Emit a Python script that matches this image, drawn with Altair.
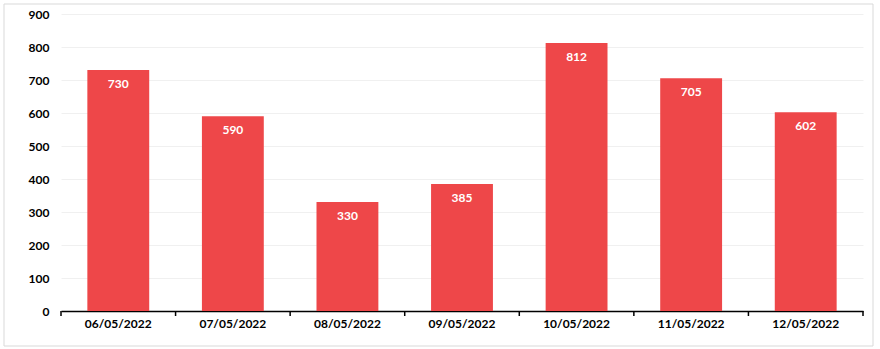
import altair as alt
import pandas as pd

dates = ["06/05/2022", "07/05/2022", "08/05/2022", "09/05/2022", "10/05/2022", "11/05/2022", "12/05/2022"]
values = [730, 590, 330, 385, 812, 705, 602]
y_ticks = [0, 100, 200, 300, 400, 500, 600, 700, 800, 900]

df = pd.DataFrame({"date": dates, "value": values})

FONT = "Lato"
PAD_INNER = 0.46
PAD_OUTER = 0.23
W, H = 802, 297
STEP = W / (len(dates) - PAD_INNER + 2 * PAD_OUTER)
HALF_GAP = PAD_INNER * STEP / 2

base = alt.Chart(df)

x_enc = alt.X("date:N", sort=dates, title=None,
              scale=alt.Scale(paddingInner=PAD_INNER, paddingOuter=PAD_OUTER),
              axis=alt.Axis(labelAngle=0, labelFontWeight="bold", labelFontSize=12,
                            labelColor="#000000", labelFont=FONT, labelPadding=7,
                            domainColor="#000000", domainWidth=1.5,
                            ticks=False, grid=False))
y_enc = alt.Y("value:Q", title=None,
              scale=alt.Scale(domain=[0, 900], nice=False),
              axis=alt.Axis(values=y_ticks, labelFontWeight="bold",
                            labelFontSize=12, labelColor="#000000", labelFont=FONT,
                            labelPadding=12, labelOverlap=False, domain=False, ticks=False,
                            grid=True, gridColor="#f0f0f0", gridWidth=1))

bars = base.mark_bar(color="#EE4749").encode(x=x_enc, y=y_enc)

labels = base.mark_text(color="white", fontWeight="bold", fontSize=12, font=FONT,
                        baseline="middle", dy=14).encode(
    x=x_enc, y=y_enc, text=alt.Text("value:Q"))

ticks_left = base.mark_rule(color="#000000", strokeWidth=1.5, xOffset=-HALF_GAP).encode(
    x=alt.X("date:N", sort=dates, bandPosition=0),
    y=alt.value(H), y2=alt.value(H + 5))

ticks_right = base.transform_filter(
    alt.datum.date == dates[-1]
).mark_rule(color="#000000", strokeWidth=1.5, xOffset=HALF_GAP).encode(
    x=alt.X("date:N", sort=dates, bandPosition=1),
    y=alt.value(H), y2=alt.value(H + 5))

border = alt.Chart(pd.DataFrame({"a": [0]})).mark_rect(
    fill=None, stroke="#d9d9d9", strokeWidth=1).encode(
    x=alt.value(-57), x2=alt.value(812), y=alt.value(-10), y2=alt.value(332))

chart = alt.layer(bars, labels, ticks_left, ticks_right, border).properties(
    width=W, height=H,
    autosize=alt.AutoSizeParams(type="none"),
    padding={"left": 61, "top": 14, "right": 17, "bottom": 38},
    background="white",
).configure_view(stroke=None)

chart.save("out.html", embed_options={"renderer": "svg", "actions": False})
